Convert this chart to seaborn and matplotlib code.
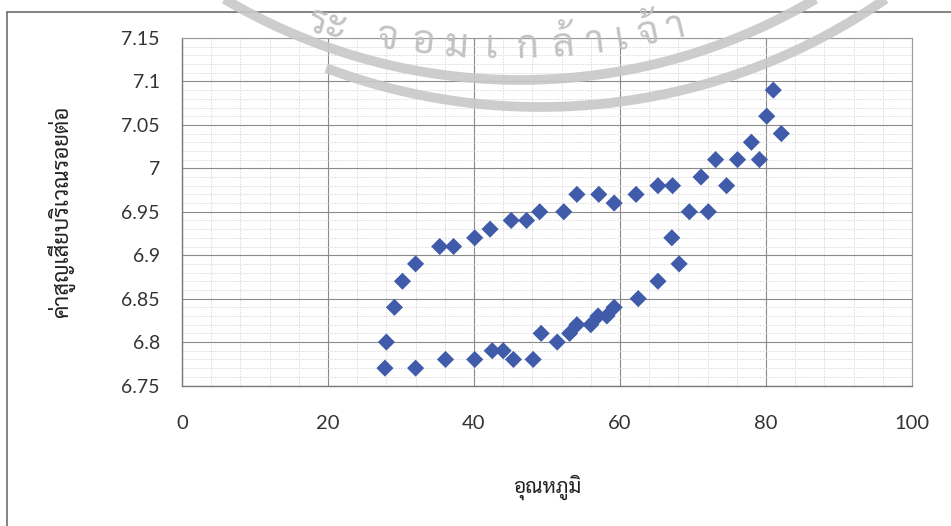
import numpy as np
import pandas as pd
import matplotlib
matplotlib.use('Agg')
import matplotlib.pyplot as plt
import seaborn as sns
from matplotlib.ticker import MultipleLocator, FixedLocator, FixedFormatter

# upper branch of the loop
temp_up = [28.0, 29.1, 30.2, 32.0, 35.3, 37.2, 40.1, 42.2, 45.1, 47.2, 49.0, 52.3,
           54.1, 57.1, 59.2, 62.2, 65.2, 67.2, 71.1, 73.1, 78.0, 80.1, 81.0]
loss_up = [6.80, 6.84, 6.87, 6.89, 6.91, 6.91, 6.92, 6.93, 6.94, 6.94, 6.95, 6.95,
           6.97, 6.97, 6.96, 6.97, 6.98, 6.98, 6.99, 7.01, 7.03, 7.06, 7.09]

# lower branch of the loop
temp_down = [27.8, 32.0, 36.1, 40.1, 42.5, 44.0, 45.4, 48.1, 49.2, 51.4, 53.1, 54.1,
             56.0, 57.0, 58.2, 59.2, 62.5, 65.2, 67.1, 68.1, 69.5, 72.1, 74.6, 76.1,
             79.1, 82.1]
loss_down = [6.77, 6.77, 6.78, 6.78, 6.79, 6.79, 6.78, 6.78, 6.81, 6.80, 6.81, 6.82,
             6.82, 6.83, 6.83, 6.84, 6.85, 6.87, 6.92, 6.89, 6.95, 6.95, 6.98, 7.01,
             7.01, 7.04]

x_ticks = [0, 20, 40, 60, 80, 100]
x_tick_labels = ['0', '20', '40', '60', '80', '100']
y_ticks = [6.75, 6.8, 6.85, 6.9, 6.95, 7.0, 7.05, 7.1, 7.15]
y_tick_labels = ['6.75', '6.8', '6.85', '6.9', '6.95', '7', '7.05', '7.1', '7.15']

x_label = 'อุณหภูมิ'
y_label = 'ค่าสูญเสียบริเวณรอยต่อ'
# part of the watermark seal that shows, split in Thai clusters
seal_text = ['ระ', 'จ', 'อ', 'ม', 'เ', 'ก', 'ล้', 'า', 'เ', 'จ้', 'า']

THAI = ['Sarabun', 'DejaVu Sans']
NUM = ['Lato', 'DejaVu Sans']

df = pd.DataFrame({
    'temp': temp_up + temp_down,
    'loss': loss_up + loss_down,
})

sns.set_style('white')
plt.rcParams['font.family'] = NUM

W, H = 951, 526
fig = plt.figure(figsize=(W / 100, H / 100), dpi=100)
ax = fig.add_axes([182 / W, 1 - 385.5 / H, (912 - 182) / W, (385.5 - 38) / H])

sns.scatterplot(data=df, x='temp', y='loss', marker='D', s=76, color='#3F5BA9',
                edgecolor='none', linewidth=0, ax=ax, zorder=3, legend=False)

ax.set_xlim(0, 100)
ax.set_ylim(6.75, 7.15)
ax.xaxis.set_major_locator(FixedLocator(x_ticks))
ax.xaxis.set_major_formatter(FixedFormatter(x_tick_labels))
ax.yaxis.set_major_locator(FixedLocator(y_ticks))
ax.yaxis.set_major_formatter(FixedFormatter(y_tick_labels))
ax.xaxis.set_minor_locator(MultipleLocator(4))
ax.yaxis.set_minor_locator(MultipleLocator(0.01))

ax.grid(which='major', color='#8a8a8a', linewidth=0.8, zorder=1)
ax.grid(which='minor', color='#d8d8d8', linewidth=0.6, linestyle=(0, (2, 1.5)), zorder=0)
ax.set_axisbelow(True)

for side in ['left', 'bottom']:
    ax.spines[side].set_color('#7a7a7a')
    ax.spines[side].set_linewidth(1.0)
for side in ['top', 'right']:
    ax.spines[side].set_color('#9a9a9a')
    ax.spines[side].set_linewidth(0.8)

ax.tick_params(axis='both', which='major', direction='out', length=4, width=0.8,
               color='#7a7a7a', labelcolor='#333333', labelsize=14)
ax.tick_params(axis='y', which='major', pad=12)
ax.tick_params(axis='x', which='major', pad=17, labelsize=14.5)
ax.tick_params(which='minor', length=0)

ax.set_xlabel(x_label, family=THAI, fontsize=15, color='#222222')
ax.set_ylabel(y_label, family=THAI, fontsize=16, color='#222222')
ax.xaxis.set_label_coords(0.5, -0.255)
ax.yaxis.set_label_coords(-0.147, 0.5)

# overlay in pixel units for the chart frame and the watermark seal
ov = fig.add_axes([0, 0, 1, 1], zorder=5)
ov.set_xlim(0, W)
ov.set_ylim(H, 0)
ov.axis('off')
ov.patch.set_alpha(0)

ov.plot([7, 7], [12, H], color='#6e6e6e', linewidth=1.2)
ov.plot([7, W], [12, 12], color='#6e6e6e', linewidth=1.2)

seal_col = '#c8c8c8'
cx, cy = 520, -500
t = np.linspace(-0.55, 0.55, 300)
ov.plot(cx + 580 * np.sin(t), cy + 580 * np.cos(t), color=seal_col, linewidth=7,
        alpha=0.9, solid_capstyle='butt')
t = np.linspace(-0.36, 0.62, 300)
ov.plot(cx + 20 + 607 * np.sin(t), cy + 607 * np.cos(t), color=seal_col, linewidth=7,
        alpha=0.9, solid_capstyle='butt')

# seal letters along their own (flatter) ring so they stay inside the picture
tx, ty, r_txt = 505, -672, 720
x_pos = [327, 387, 423, 456, 491, 527, 563, 595, 621, 648, 676]
for ch, xp in zip(seal_text, x_pos):
    th = np.arcsin((xp - tx) / r_txt)
    ov.text(tx + r_txt * np.sin(th), ty + r_txt * np.cos(th), ch, family=THAI,
            fontsize=28, color='#bdbdbd', ha='center', va='center',
            rotation=np.degrees(th), rotation_mode='anchor', alpha=0.9)

fig.savefig('out.png', dpi=100)
